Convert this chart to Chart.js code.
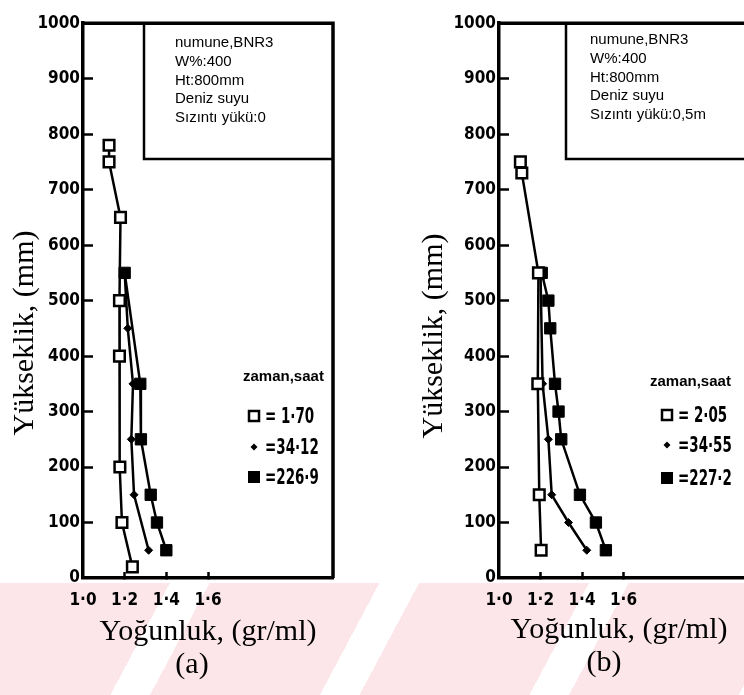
<!DOCTYPE html>
<html>
<head>
<meta charset="utf-8">
<script src="https://cdn.jsdelivr.net/npm/chart.js@4.4.1/dist/chart.umd.min.js"></script>
<style>
html, body { margin: 0; padding: 0; overflow: hidden; background: #fff; }
#wrap { position: relative; width: 744px; height: 695px; overflow: hidden; }
#wm { position: absolute; left: 0; top: 583px; width: 744px; height: 112px;
      background: repeating-linear-gradient(118deg, #fce6ea 0px, #fce6ea 150px, #ffffff 150px, #ffffff 185px); }
#ca { position: absolute; left: 0; top: 0; }
#cb { position: absolute; left: 372px; top: 0; }
</style>
</head>
<body>
<div id="wrap">
  <div id="wm"></div>
  <canvas id="ca" width="372" height="695"></canvas>
  <canvas id="cb" width="400" height="695"></canvas>
</div>
<script>
// tick labels
const xTickLabels = ['1·0', '1·2', '1·4', '1·6'];

// panel (a) - Sızıntı yükü: 0
const heightA1 = [780, 750, 650, 500, 400, 200, 100, 20];
const densA1   = [1.125, 1.125, 1.18, 1.175, 1.175, 1.177, 1.187, 1.237];
const heightA2 = [550, 450, 350, 250, 150, 50];
const densA2   = [1.2, 1.215, 1.24, 1.232, 1.245, 1.315];
const heightA3 = [550, 350, 250, 150, 100, 50];
const densA3   = [1.2, 1.275, 1.278, 1.325, 1.355, 1.40];

// panel (b) - Sızıntı yükü: 0,5m
const heightB1 = [750, 730, 550, 350, 150, 50];
const densB1   = [1.103, 1.11, 1.19, 1.187, 1.194, 1.203];
const heightB2 = [550, 350, 250, 150, 100, 50];
const densB2   = [1.2, 1.21, 1.238, 1.254, 1.335, 1.423];
const heightB3 = [550, 500, 450, 350, 300, 250, 150, 100, 50];
const densB3   = [1.206, 1.238, 1.247, 1.27, 1.287, 1.30, 1.39, 1.467, 1.515];

const infoA = ['numune,BNR3', 'W%:400', 'Ht:800mm', 'Deniz suyu', 'Sızıntı yükü:0'];
const infoB = ['numune,BNR3', 'W%:400', 'Ht:800mm', 'Deniz suyu', 'Sızıntı yükü:0,5m'];
const legendA = ['= 1·70', '=34·12', '=226·9'];
const legendB = ['= 2·05', '=34·55', '=227·2'];

const pts = (xs, ys) => xs.map((x, i) => ({x: x, y: ys[i]}));

const tickFont = {family: '"DejaVu Sans Condensed", "DejaVu Sans", sans-serif', weight: 'bold', size: 17};
const serif = '"Liberation Serif", "Times New Roman", serif';
const sans = '"Liberation Sans", Arial, sans-serif';

const decor = {
    id: 'decor',
    afterDraw(chart, args, o) {
        const ctx = chart.ctx;
        const ca = chart.chartArea;
        ctx.save();
        ctx.strokeStyle = '#000';
        ctx.fillStyle = '#000';
        // top and right frame
        ctx.lineWidth = 3.5;
        ctx.beginPath();
        ctx.moveTo(ca.left, ca.top);
        ctx.lineTo(ca.right, ca.top);
        ctx.lineTo(ca.right, ca.bottom);
        ctx.stroke();
        // info box
        ctx.lineWidth = 2.5;
        ctx.beginPath();
        ctx.moveTo(o.boxX, ca.top);
        ctx.lineTo(o.boxX, o.boxBottom);
        ctx.lineTo(ca.right, o.boxBottom);
        ctx.stroke();
        ctx.font = '15px ' + sans;
        ctx.textBaseline = 'middle';
        ctx.textAlign = 'left';
        o.info.forEach((t, i) => ctx.fillText(t, o.infoX, o.infoY + i * 18.7));
        // legend
        ctx.font = 'bold 15px ' + sans;
        ctx.fillText('zaman,saat', o.legX, o.legY);
        const mx = o.legX + o.markOff;
        o.legRows.forEach((ry, i) => {
            ctx.lineWidth = 2.5;
            if (i === 0) {
                ctx.fillStyle = '#fff';
                ctx.fillRect(mx - 5, ry - 5, 10, 10);
                ctx.strokeRect(mx - 5, ry - 5, 10, 10);
                ctx.fillStyle = '#000';
            } else if (i === 1) {
                ctx.beginPath();
                ctx.moveTo(mx, ry - 3.5); ctx.lineTo(mx + 3.5, ry);
                ctx.lineTo(mx, ry + 3.5); ctx.lineTo(mx - 3.5, ry);
                ctx.closePath(); ctx.fill();
            } else {
                ctx.fillRect(mx - 6, ry - 6, 12, 12);
            }
            ctx.save();
            ctx.translate(mx + 11, ry + 1);
            ctx.scale(0.68, 1);
            ctx.font = 'bold 22px "DejaVu Sans Condensed", "DejaVu Sans", sans-serif';
            ctx.fillText(o.legend[i], 0, 0);
            ctx.restore();
        });
        // axis titles
        ctx.font = '30px ' + serif;
        ctx.textBaseline = 'alphabetic';
        ctx.textAlign = 'center';
        ctx.fillText('Yoğunluk, (gr/ml)', o.xtX, o.xtY);
        ctx.fillText(o.letter, o.letX, o.xtY + 33);
        ctx.save();
        ctx.translate(o.ytX, o.ytY);
        ctx.rotate(-Math.PI / 2);
        ctx.fillText('Yükseklik, (mm)', 0, 0);
        ctx.restore();
        ctx.restore();
    }
};

function makeChart(id, sets, yWidth, padRight, deco) {
    return new Chart(document.getElementById(id), {
        type: 'scatter',
        data: {
            datasets: [
                {data: pts(sets[0][0], sets[0][1]), pointStyle: 'rect', pointRadius: 7.5,
                 pointBackgroundColor: '#fff', pointBorderColor: '#000', pointBorderWidth: 2.5},
                {data: pts(sets[1][0], sets[1][1]), pointStyle: 'rectRot', pointRadius: 4,
                 pointBackgroundColor: '#000', pointBorderColor: '#000', pointBorderWidth: 1},
                {data: pts(sets[2][0], sets[2][1]), pointStyle: 'rect', pointRadius: 8,
                 pointBackgroundColor: '#000', pointBorderColor: '#000', pointBorderWidth: 1}
            ].map(d => Object.assign(d, {showLine: true, borderColor: '#000', borderWidth: 2.5, tension: 0, fill: false}))
        },
        options: {
            responsive: false,
            animation: false,
            devicePixelRatio: 1,
            layout: {padding: {left: 0, top: 13, right: padRight, bottom: 0}},
            plugins: {legend: {display: false}, tooltip: {enabled: false}, decor: deco},
            scales: {
                x: {
                    type: 'linear', min: 1.0, max: 2.2,
                    afterFit: s => { s.height = 117; },
                    ticks: {stepSize: 0.2, autoSkip: false, maxRotation: 0, font: tickFont, color: '#000', padding: 18,
                            callback: (v, i) => xTickLabels[i] || ''},
                    grid: {drawOnChartArea: false, tickLength: -6, tickWidth: 2.5,
                           tickColor: c => (c.index >= 1 && c.index <= 3) ? '#000' : 'rgba(0,0,0,0)'},
                    border: {display: true, width: 3.5, color: '#000'}
                },
                y: {
                    min: 0, max: 1000,
                    afterFit: s => { s.width = yWidth; },
                    ticks: {stepSize: 100, font: tickFont, color: '#000', padding: 13,
                            callback: v => String(v)},
                    grid: {drawOnChartArea: false, tickLength: -10, tickWidth: 2.5,
                           tickColor: c => (c.index >= 1 && c.index <= 9) ? '#000' : 'rgba(0,0,0,0)'},
                    border: {display: true, width: 3.5, color: '#000'}
                }
            }
        },
        plugins: [decor]
    });
}

makeChart('ca', [[densA1, heightA1], [densA2, heightA2], [densA3, heightA3]], 83, 39, {
    info: infoA, legend: legendA, letter: '(a)',
    boxX: 144, boxBottom: 159, infoX: 175, infoY: 43,
    legX: 243, legY: 377, markOff: 11, legRows: [416, 447, 477],
    xtX: 208, xtY: 640, letX: 192, ytX: 33, ytY: 333
});

makeChart('cb', [[densB1, heightB1], [densB2, heightB2], [densB3, heightB3]], 127, 24, {
    info: infoB, legend: legendB, letter: '(b)',
    boxX: 194, boxBottom: 159, infoX: 218, infoY: 40,
    legX: 278, legY: 382, markOff: 17, legRows: [415, 445, 478],
    xtX: 247, xtY: 638, letX: 232, ytX: 70, ytY: 336
});
</script>
</body>
</html>
